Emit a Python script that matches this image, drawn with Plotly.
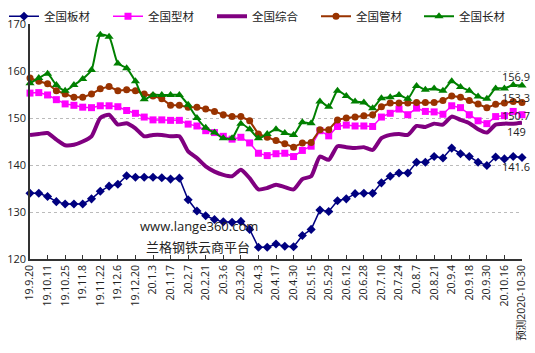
import plotly.graph_objects as go

tick_labels = ["19.9.20", "19.10.11", "19.10.25", "19.11.8", "19.11.22", "19.12.6", "19.12.20",
               "20.1.3", "20.1.17", "20.2.7", "20.2.21", "20.3.6", "20.3.20", "20.4.3",
               "20.4.17", "20.4.30", "20.5.15", "20.5.29", "20.6.12", "20.6.28", "20.7.10",
               "20.7.24", "20.8.7", "20.8.21", "20.9.4", "20.9.18", "20.9.30", "20.10.16",
               "预测2020-10-30"]

plate = [134.0, 134.0, 133.3, 132.2, 131.7, 131.7, 131.7, 132.8, 134.4, 135.5,
         135.9, 137.7, 137.4, 137.4, 137.4, 137.3, 137.0, 137.2, 132.6, 130.2,
         129.2, 128.4, 127.9, 127.8, 128.0, 126.3, 122.5, 122.5, 123.2, 122.7,
         122.6, 125.0, 126.3, 130.4, 130.1, 132.4, 132.8, 133.9, 134.0, 134.0,
         136.2, 137.6, 138.3, 138.3, 140.6, 140.6, 141.8, 141.5, 143.6, 142.4,
         141.8, 140.6, 139.9, 141.7, 141.3, 141.8, 141.6]

section = [155.3, 155.4, 154.9, 153.9, 153.0, 152.7, 152.3, 152.2, 152.6, 152.6,
           152.4, 151.6, 151.0, 150.2, 149.6, 149.6, 149.5, 149.5, 148.7, 148.3,
           147.3, 146.9, 146.1, 145.5, 145.9, 144.7, 142.5, 142.0, 142.4, 142.5,
           141.8, 143.1, 144.0, 147.3, 146.2, 148.2, 148.5, 148.3, 148.3, 148.2,
           150.2, 151.0, 151.9, 150.7, 152.1, 151.4, 151.3, 150.8, 152.6, 152.2,
           150.7, 149.4, 148.8, 150.3, 150.5, 151.4, 150.7]

composite = [146.4, 146.6, 146.8, 145.4, 144.2, 144.3, 145.0, 146.1, 150.0, 150.7,
             148.6, 148.9, 147.8, 146.1, 146.4, 146.4, 146.1, 146.1, 142.9, 141.5,
             139.7, 138.6, 137.9, 137.6, 139.0, 137.2, 134.8, 135.1, 135.8, 135.3,
             134.8, 137.0, 137.6, 141.8, 141.1, 144.0, 143.8, 143.6, 143.8, 143.2,
             145.7, 146.4, 146.6, 146.4, 148.3, 148.1, 148.8, 148.6, 150.3, 149.6,
             148.9, 147.6, 146.9, 148.6, 148.8, 148.8, 149.0]

pipe = [158.5, 157.8, 157.3, 155.8, 155.1, 154.4, 154.4, 155.1, 156.2, 156.7,
        155.8, 156.0, 155.8, 155.1, 154.7, 154.1, 152.7, 152.7, 152.3, 152.3,
        151.9, 151.4, 150.7, 150.3, 150.3, 149.4, 146.6, 145.9, 145.2, 144.5,
        143.8, 144.7, 144.8, 147.5, 147.5, 149.6, 150.0, 150.2, 150.5, 150.7,
        152.4, 153.2, 153.2, 153.2, 153.3, 153.3, 153.3, 153.7, 154.7, 154.4,
        153.7, 153.0, 152.2, 152.9, 153.2, 153.5, 153.3]

long_ = [157.4, 158.5, 159.4, 157.0, 155.8, 157.0, 158.3, 160.2, 167.7, 167.3,
         161.6, 160.6, 157.8, 154.0, 154.9, 154.9, 154.9, 154.9, 152.8, 150.0,
         147.9, 146.9, 145.7, 145.7, 148.8, 147.6, 145.7, 146.6, 147.6, 146.8,
         146.4, 149.1, 148.9, 153.5, 152.4, 155.8, 154.7, 153.5, 153.3, 152.1,
         154.2, 154.4, 154.9, 154.1, 156.8, 156.0, 156.3, 155.8, 157.8, 156.6,
         155.8, 154.6, 154.1, 156.3, 156.3, 157.0, 156.9]

x = list(range(len(plate)))
tick_vals = x[::2]

FONT = "Open Sans, Noto Sans CJK SC, sans-serif"

fig = go.Figure()
fig.add_trace(go.Scatter(x=x, y=plate, name="全国板材", mode="lines+markers", legend="legend",
                         line=dict(color="#000080", width=1.5),
                         marker=dict(symbol="diamond", size=7, color="#000080"),
                         cliponaxis=False))
fig.add_trace(go.Scatter(x=x, y=section, name="全国型材", mode="lines+markers", legend="legend2",
                         line=dict(color="#FF00FF", width=1.5),
                         marker=dict(symbol="square", size=7, color="#FF00FF"),
                         cliponaxis=False))
fig.add_trace(go.Scatter(x=x, y=composite, name="全国综合", mode="lines", legend="legend3",
                         line=dict(color="#800080", width=4, shape="spline", smoothing=0.6),
                         cliponaxis=False))
fig.add_trace(go.Scatter(x=x, y=pipe, name="全国管材", mode="lines+markers", legend="legend4",
                         line=dict(color="#993300", width=2),
                         marker=dict(symbol="circle", size=7, color="#993300"),
                         cliponaxis=False))
fig.add_trace(go.Scatter(x=x, y=long_, name="全国长材", mode="lines+markers", legend="legend5",
                         line=dict(color="#008000", width=2, shape="spline", smoothing=0.6),
                         marker=dict(symbol="triangle-up", size=8, color="#008000"),
                         cliponaxis=False))

# end-value labels
last = len(x) - 1
end_labels = [(long_[last], "156.9", 9), (pipe[last], "153.3", 5), (section[last], "150.7", -1),
              (composite[last], "149", -9), (plate[last], "141.6", -9)]
for yv, txt, ys in end_labels:
    fig.add_annotation(x=last, y=yv, text=txt, showarrow=False, borderpad=0,
                       xanchor="center", yanchor="middle", xshift=-6, yshift=ys,
                       font=dict(family=FONT, size=11, color="#222"))

fig.add_annotation(xref="paper", yref="paper", x=0.3435, y=0.092, text="www.lange360.com",
                   showarrow=False, font=dict(family=FONT, size=13, color="#222"))
fig.add_annotation(xref="paper", yref="paper", x=0.341, y=0.006, text="兰格钢铁云商平台",
                   showarrow=False, font=dict(family=FONT, size=13, color="#222"))

legend_px = [4, 108, 212, 316, 419]
legend_common = dict(orientation="h", xref="container", yref="container",
                     y=0.995, xanchor="left", yanchor="top",
                     font=dict(family=FONT, size=11.5, color="#222"),
                     itemwidth=30, bgcolor="rgba(0,0,0,0)")
legends = {}
for i, px in enumerate(legend_px):
    key = "legend" if i == 0 else f"legend{i + 1}"
    legends[key] = dict(legend_common, x=px / 535)

fig.update_layout(
    width=535, height=353,
    margin=dict(l=30, r=13, t=24, b=94, autoexpand=False),
    paper_bgcolor="white", plot_bgcolor="white",
    font=dict(family=FONT, size=11, color="#222"),
    showlegend=True,
    xaxis=dict(range=[0, last], tickmode="array", tickvals=tick_vals, ticktext=tick_labels,
               tickangle=-90, showgrid=False, zeroline=False, showline=True,
               linecolor="#333", linewidth=1.5, ticks="inside", ticklen=4,
               tickcolor="#333", tickfont=dict(family=FONT, size=10.5, color="#222")),
    yaxis=dict(range=[120, 170], tickvals=[120, 130, 140, 150, 160, 170],
               showgrid=True, gridcolor="#BBBBBB", griddash="dot", gridwidth=1,
               zeroline=False, showline=True, linecolor="#333", linewidth=1.5,
               ticks="", tickfont=dict(family=FONT, size=11, color="#222")),
    **legends,
)

fig.write_html("out.html")
